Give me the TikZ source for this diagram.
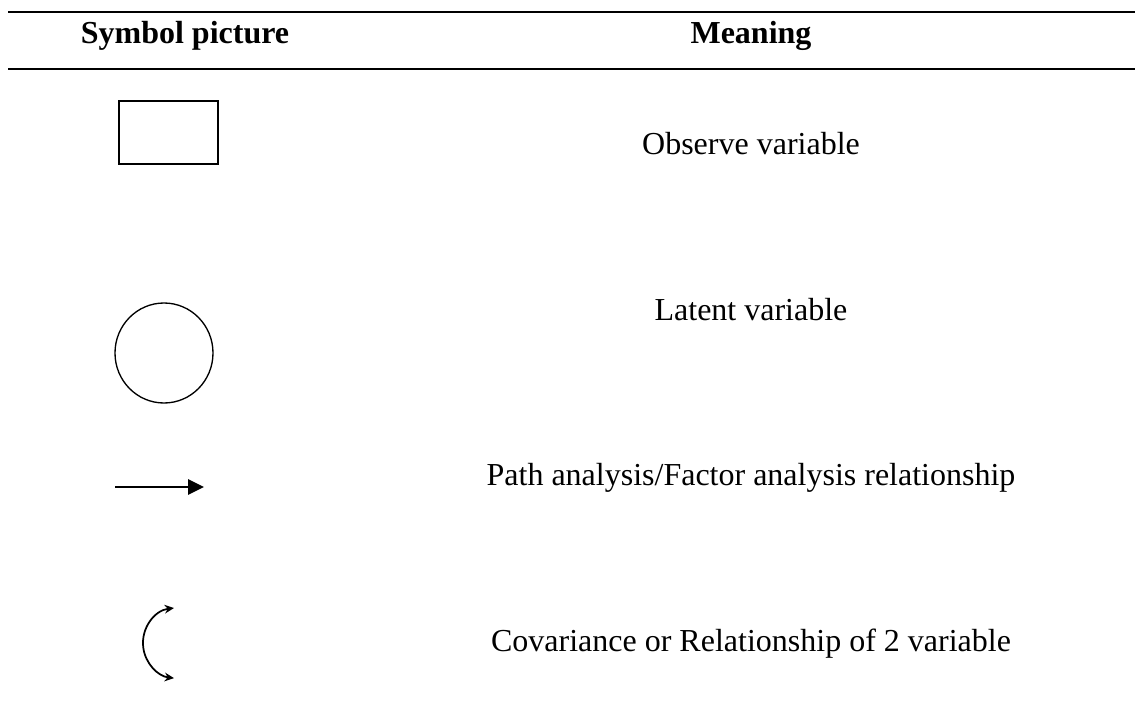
\documentclass[tikz,border=0pt]{standalone}
\usepackage{fontspec}
\setmainfont{Liberation Serif}
\usetikzlibrary{arrows.meta,shapes.geometric}
\begin{document}
\begin{tikzpicture}[x=0.75pt,y=-0.75pt,
  rulestyle/.style={line width=1.4pt},
  headtext/.style={font=\fontsize{24pt}{28pt}\selectfont\bfseries, anchor=base, inner sep=0pt},
  bodytext/.style={font=\fontsize{24pt}{28pt}\selectfont, anchor=base, inner sep=0pt},
  obsbox/.style={draw, line width=1.1pt, rectangle, minimum width=74.25pt, minimum height=47.25pt, inner sep=0pt},
  latshape/.style={draw, line width=1pt, ellipse, minimum width=73.5pt, minimum height=75pt, inner sep=0pt},
  patharrow/.style={line width=1.6pt, -{Triangle[length=12pt,width=11.5pt]}},
  covarrow/.style={line width=1.3pt, {Stealth[length=7pt,width=6.5pt]}-{Stealth[length=7pt,width=6.5pt]}}
]
\useasboundingbox (0,0) rectangle (1135,728);

% table rules
\coordinate (r1a) at (8,12);
\coordinate (r1b) at (1135,12);
\coordinate (r2a) at (8,69);
\coordinate (r2b) at (1135,69);
\draw[rulestyle] (r1a) -- (r1b);
\draw[rulestyle] (r2a) -- (r2b);

% header
\node[headtext] (hsym) at (185,43) {Symbol picture};
\node[headtext] (hmean) at (751,43) {Meaning};

% observed variable
\node[obsbox] (obs) at (168.5,132.5) {};
\node[bodytext] (tobs) at (751,154) {Observe variable};

% latent variable
\node[latshape] (lat) at (164,353) {};
\node[bodytext] (tlat) at (751,320) {Latent variable};

% path arrow
\coordinate (pa) at (115,487);
\coordinate (pb) at (204,487);
\draw[patharrow] (pa) -- (pb);
\node[bodytext] (tpath) at (751,485) {Path analysis/Factor analysis relationship};

% covariance arc
\coordinate (ct) at (174,608);
\draw[covarrow] (ct) arc[start angle=97, end angle=263, radius=26.5pt];
\node[bodytext] (tcov) at (751,651) {Covariance or Relationship of 2 variable};
\end{tikzpicture}
\end{document}
